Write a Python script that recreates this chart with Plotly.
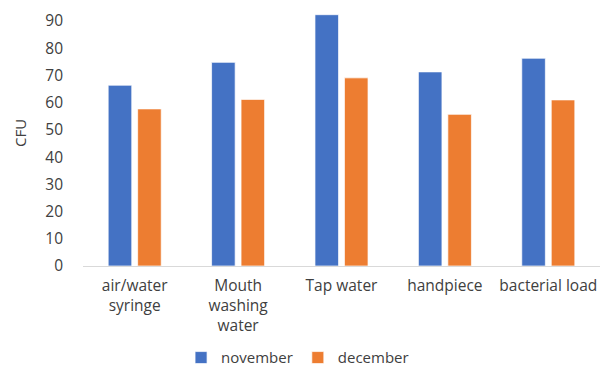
import plotly.graph_objects as go

categories = ["air/water<br>syringe", "Mouth<br>washing<br>water", "Tap water", "handpiece", "bacterial load"]
november = [66.4, 74.8, 92.3, 71.3, 76.3]
december = [57.7, 61.2, 69.1, 55.7, 61.0]
y_ticks = [0, 10, 20, 30, 40, 50, 60, 70, 80, 90]

fig = go.Figure()
fig.add_trace(go.Bar(name="november", x=categories, y=november,
                     marker=dict(color="#4472C4", line=dict(color="rgba(255,255,255,0.7)", width=1))))
fig.add_trace(go.Bar(name="december", x=categories, y=december,
                     marker=dict(color="#ED7D31", line=dict(color="rgba(255,255,255,0.7)", width=1))))

fig.update_layout(
    width=601, height=367,
    margin=dict(l=83, r=1, t=0, b=101, autoexpand=False),
    plot_bgcolor="white", paper_bgcolor="white",
    barmode="group", bargap=0.43, bargroupgap=0.2,
    font=dict(family="Open Sans", size=15, color="#404040"),
    showlegend=True,
    legend=dict(orientation="h", x=0.415, xanchor="center", yref="container", y=0.025, yanchor="middle",
                font=dict(size=15, color="#404040"), itemwidth=30, traceorder="normal"),
    xaxis=dict(showline=True, linecolor="#D9D9D9", linewidth=1, ticks="", showgrid=False,
               tickfont=dict(size=15.5, color="#404040"), ticklabelstandoff=5),
    yaxis=dict(range=[0, 97.7], tickvals=y_ticks, showgrid=False, zeroline=False, showline=False,
               ticks="", ticklabelstandoff=19, tickfont=dict(size=15.5, color="#404040"),
               title=dict(text="CFU", font=dict(size=15, color="#404040"), standoff=15)),
)

fig.write_html("out.html")
